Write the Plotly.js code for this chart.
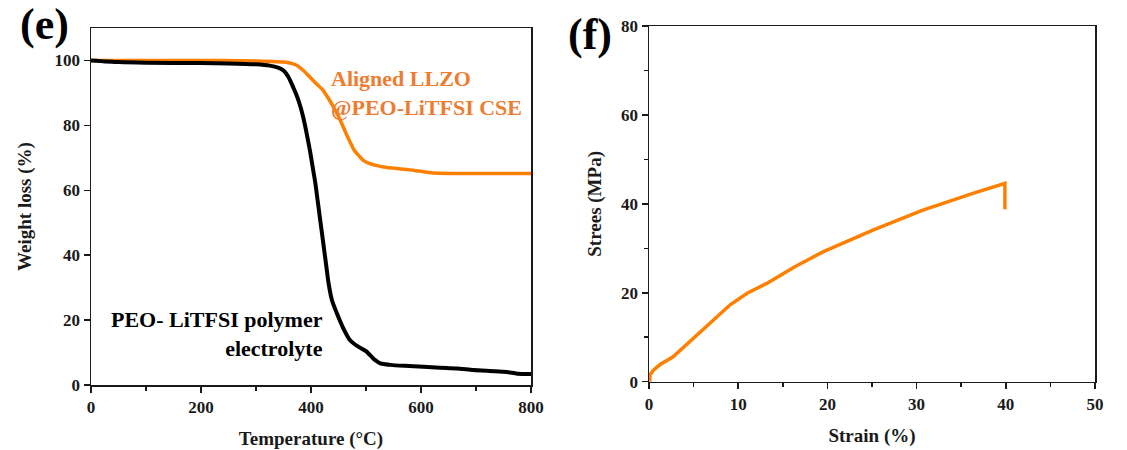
<!DOCTYPE html>
<html>
<head>
<meta charset="utf-8">
<script src="https://cdn.plot.ly/plotly-3.0.1.min.js"></script>
<style>html,body{margin:0;padding:0;background:#fff}#chart{width:1127px;height:450px}</style>
</head>
<body>
<div id="chart"></div>
<script>
// (e) TGA: temperature (°C) vs remaining weight (%)
const pegTemp = [0, 50, 100, 200, 250, 300, 325, 340, 350, 359, 368, 374, 380, 386, 392, 398, 403, 408, 412, 416, 420, 424, 428, 432, 438, 447, 459, 471, 486, 501, 513, 520, 526, 535, 544, 570, 604, 635, 665, 695, 725, 756, 775, 800];
const pegWeight = [100, 99.5, 99.3, 99.2, 99.1, 98.8, 98.4, 97.8, 96.9, 94.9, 91.6, 89.2, 86.2, 82.4, 77.6, 72.3, 67.2, 62.1, 56.9, 51.8, 46.7, 41.5, 36.4, 31.3, 26.2, 22.1, 17.4, 13.8, 11.8, 10.3, 8.2, 7.3, 6.7, 6.4, 6.2, 5.9, 5.6, 5.3, 5.1, 4.6, 4.3, 4.0, 3.5, 3.4];
const cseTemp = [0, 100, 200, 271, 330, 350, 362, 374, 386, 398, 410, 422, 432, 441, 449, 456, 464, 471, 478, 486, 495, 507, 520, 532, 556, 586, 622, 660, 700, 750, 800];
const cseWeight = [100, 100, 100, 99.9, 99.7, 99.5, 99.2, 98.5, 96.9, 94.9, 92.8, 90.8, 88.2, 85.6, 83.1, 80.5, 77.4, 74.9, 72.5, 70.8, 69.2, 68.2, 67.6, 67.2, 66.7, 66.2, 65.3, 65.2, 65.2, 65.2, 65.2];

// (f) tensile curve: strain (%) vs stress (MPa)
const strain = [0.1, 0.1, 0.5, 1.2, 2.7, 5.0, 7.2, 9.1, 11.0, 13.2, 16.3, 19.5, 25.1, 30.7, 36.4, 39.9, 39.9];
const stress = [0, 1.5, 2.6, 3.8, 5.6, 9.8, 13.9, 17.3, 19.9, 22.1, 25.8, 29.2, 34.1, 38.6, 42.4, 44.6, 38.8];

const serif = '"Liberation Serif", "Times New Roman", Times, serif';
const ink = '#1a1a1a';
const orange = '#ff8000';
const textOrange = '#ed7d31';

const tickFont = {family: serif, size: 17, color: ink, weight: 700};
const titleFont = {family: serif, size: 19, color: ink, weight: 700};

function axisBase(extra) {
  return Object.assign({
    showline: true, linecolor: ink, linewidth: 1.5, mirror: true,
    ticks: 'outside', ticklen: 6, tickwidth: 1.5, tickcolor: ink,
    showgrid: false, zeroline: false, tickfont: tickFont
  }, extra);
}

const traces = [
  {x: cseTemp, y: cseWeight, type: 'scatter', mode: 'lines', line: {color: orange, width: 3.5, shape: 'spline', smoothing: 0.6}, xaxis: 'x', yaxis: 'y', hoverinfo: 'x+y'},
  {x: pegTemp, y: pegWeight, type: 'scatter', mode: 'lines', line: {color: '#000', width: 4, shape: 'spline', smoothing: 0.6}, xaxis: 'x', yaxis: 'y', hoverinfo: 'x+y'},
  {x: strain, y: stress, type: 'scatter', mode: 'lines', line: {color: orange, width: 3.5}, xaxis: 'x2', yaxis: 'y2', hoverinfo: 'x+y'}
];

const layout = {
  width: 1127, height: 450,
  margin: {l: 0, r: 0, t: 0, b: 0},
  paper_bgcolor: '#fff', plot_bgcolor: '#fff',
  showlegend: false,
  font: {family: serif, color: ink},
  xaxis: axisBase({
    domain: [91 / 1127, 531 / 1127], range: [0, 800], tickvals: [0, 200, 400, 600, 800],
    minor: {tickvals: [100, 300, 500, 700], ticks: 'outside', ticklen: 4, tickwidth: 1.5, tickcolor: ink},
    title: {text: 'Temperature (°C)', font: titleFont, standoff: 16}, anchor: 'y'
  }),
  yaxis: axisBase({
    domain: [1 - 385 / 450, 1 - 28 / 450], range: [0, 110], tickvals: [0, 20, 40, 60, 80, 100],
    title: {text: 'Weight loss (%)', font: titleFont, standoff: 18}, anchor: 'x'
  }),
  xaxis2: axisBase({
    domain: [649 / 1127, 1095 / 1127], range: [0, 50], tickvals: [0, 10, 20, 30, 40, 50],
    minor: {tickvals: [5, 15, 25, 35, 45], ticks: 'outside', ticklen: 4, tickwidth: 1.5, tickcolor: ink},
    title: {text: 'Strain (%)', font: titleFont, standoff: 16}, anchor: 'y2'
  }),
  yaxis2: axisBase({
    domain: [1 - 381.7 / 450, 1 - 26 / 450], range: [0, 80], tickvals: [0, 20, 40, 60, 80],
    minor: {tickvals: [10, 30, 50, 70], ticks: 'outside', ticklen: 4, tickwidth: 1.5, tickcolor: ink},
    title: {text: 'Strees (MPa)', font: titleFont, standoff: 14}, anchor: 'x2'
  }),
  annotations: [
    {text: '(e)', xref: 'paper', yref: 'paper', x: 18 / 1127, y: 1 - 24 / 450, xanchor: 'left', yanchor: 'middle', showarrow: false,
     font: {family: serif, size: 44, color: '#000', weight: 700}},
    {text: '(f)', xref: 'paper', yref: 'paper', x: 566 / 1127, y: 1 - 34 / 450, xanchor: 'left', yanchor: 'middle', showarrow: false,
     font: {family: serif, size: 44, color: '#000', weight: 700}},
    {text: 'Aligned LLZO<br>@PEO-LiTFSI CSE', xref: 'x', yref: 'y', x: 433, y: 90, xanchor: 'left', yanchor: 'middle', align: 'left', showarrow: false,
     font: {family: serif, size: 22, color: textOrange, weight: 700}},
    {text: 'PEO- LiTFSI polymer<br>electrolyte', xref: 'x', yref: 'y', x: 425, y: 15.6, xanchor: 'right', yanchor: 'middle', align: 'right', showarrow: false,
     font: {family: serif, size: 22, color: '#000', weight: 700}}
  ]
};

Plotly.newPlot('chart', traces, layout, {displayModeBar: false, staticPlot: true});
</script>
</body>
</html>
